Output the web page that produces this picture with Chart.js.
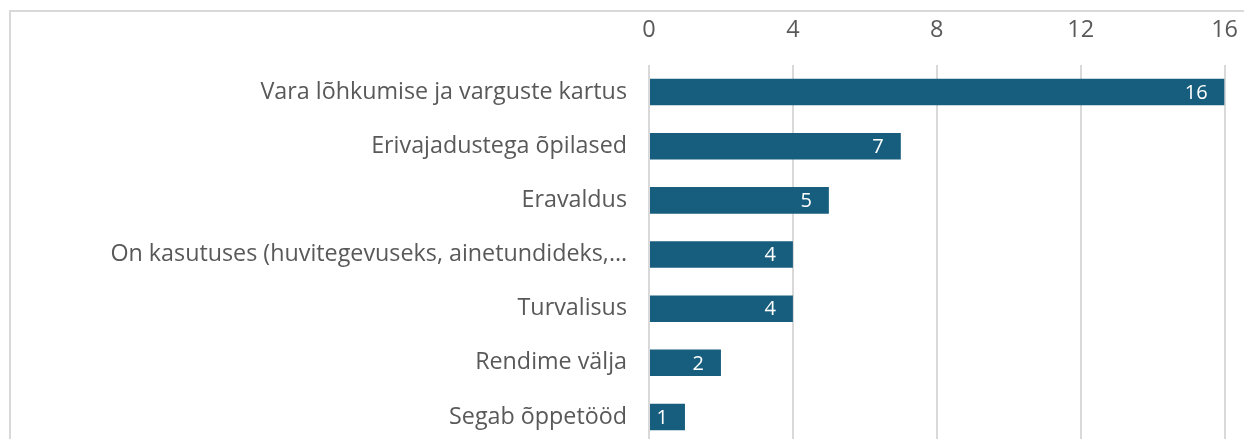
<!DOCTYPE html>
<html>
<head>
<meta charset="utf-8">
<script src="https://cdn.jsdelivr.net/npm/chart.js@4/dist/chart.umd.min.js"></script>
<style>
  html, body { margin: 0; padding: 0; background: #fff; overflow: hidden; }
  #wrap { position: absolute; left: 0; top: 0; width: 1244px; height: 480px; overflow: hidden; }
  #frame { position: absolute; left: 9px; top: 10px; width: 1400px; height: 600px;
           border-left: 2px solid #d9d9d9; border-top: 2px solid #d9d9d9; }
  canvas { position: absolute; left: 0; top: 0; }
</style>
</head>
<body>
<div id="wrap">
  <div id="frame"></div>
  <canvas id="c" width="1259" height="480"></canvas>
</div>
<script>
const categories = [
  "Vara lõhkumise ja varguste kartus",
  "Erivajadustega õpilased",
  "Eravaldus",
  "On kasutuses (huvitegevuseks, ainetundideks,…",
  "Turvalisus",
  "Rendime välja",
  "Segab õppetööd"
];
const values = [16, 7, 5, 4, 4, 2, 1];
const tickValues = [0, 4, 8, 12, 16];

const FONT = "'Open Sans', 'DejaVu Sans', sans-serif";
const LABEL_COLOR = "#595959";
const BAR_COLOR = "#175e7e";

const valueLabels = {
  id: 'valueLabels',
  afterDatasetsDraw(chart) {
    const ctx = chart.ctx;
    const meta = chart.getDatasetMeta(0);
    ctx.save();
    ctx.font = "20px " + FONT;
    ctx.fillStyle = "#ffffff";
    ctx.textAlign = "right";
    ctx.textBaseline = "middle";
    meta.data.forEach((bar, i) => {
      ctx.fillText(String(values[i]), bar.x - 17, bar.y + 1);
    });
    ctx.restore();
  }
};

new Chart(document.getElementById('c'), {
  type: 'bar',
  data: {
    labels: categories,
    datasets: [{
      data: values,
      backgroundColor: BAR_COLOR,
      borderWidth: 0,
      categoryPercentage: 1,
      barPercentage: 0.49
    }]
  },
  options: {
    indexAxis: 'y',
    responsive: false,
    animation: false,
    events: [],
    layout: { padding: { left: 0, right: 0, top: 0, bottom: 0 } },
    plugins: { legend: { display: false }, tooltip: { enabled: false } },
    scales: {
      x: {
        position: 'top',
        min: 0,
        max: 16,
        afterBuildTicks(scale) { scale.ticks = tickValues.map(v => ({ value: v })); },
        afterFit(scale) { scale.height = 65; },
        grid: { color: '#d9d9d9', lineWidth: 2, drawTicks: false },
        border: { display: false },
        ticks: { color: LABEL_COLOR, font: { family: FONT, size: 23.5 }, padding: 21, maxRotation: 0 }
      },
      y: {
        afterFit(scale) { scale.width = 649; },
        grid: { display: false, drawTicks: false },
        border: { display: false },
        ticks: { color: LABEL_COLOR, font: { family: FONT, size: 23.3 }, padding: 22, autoSkip: false }
      }
    }
  },
  plugins: [valueLabels]
});
</script>
</body>
</html>
